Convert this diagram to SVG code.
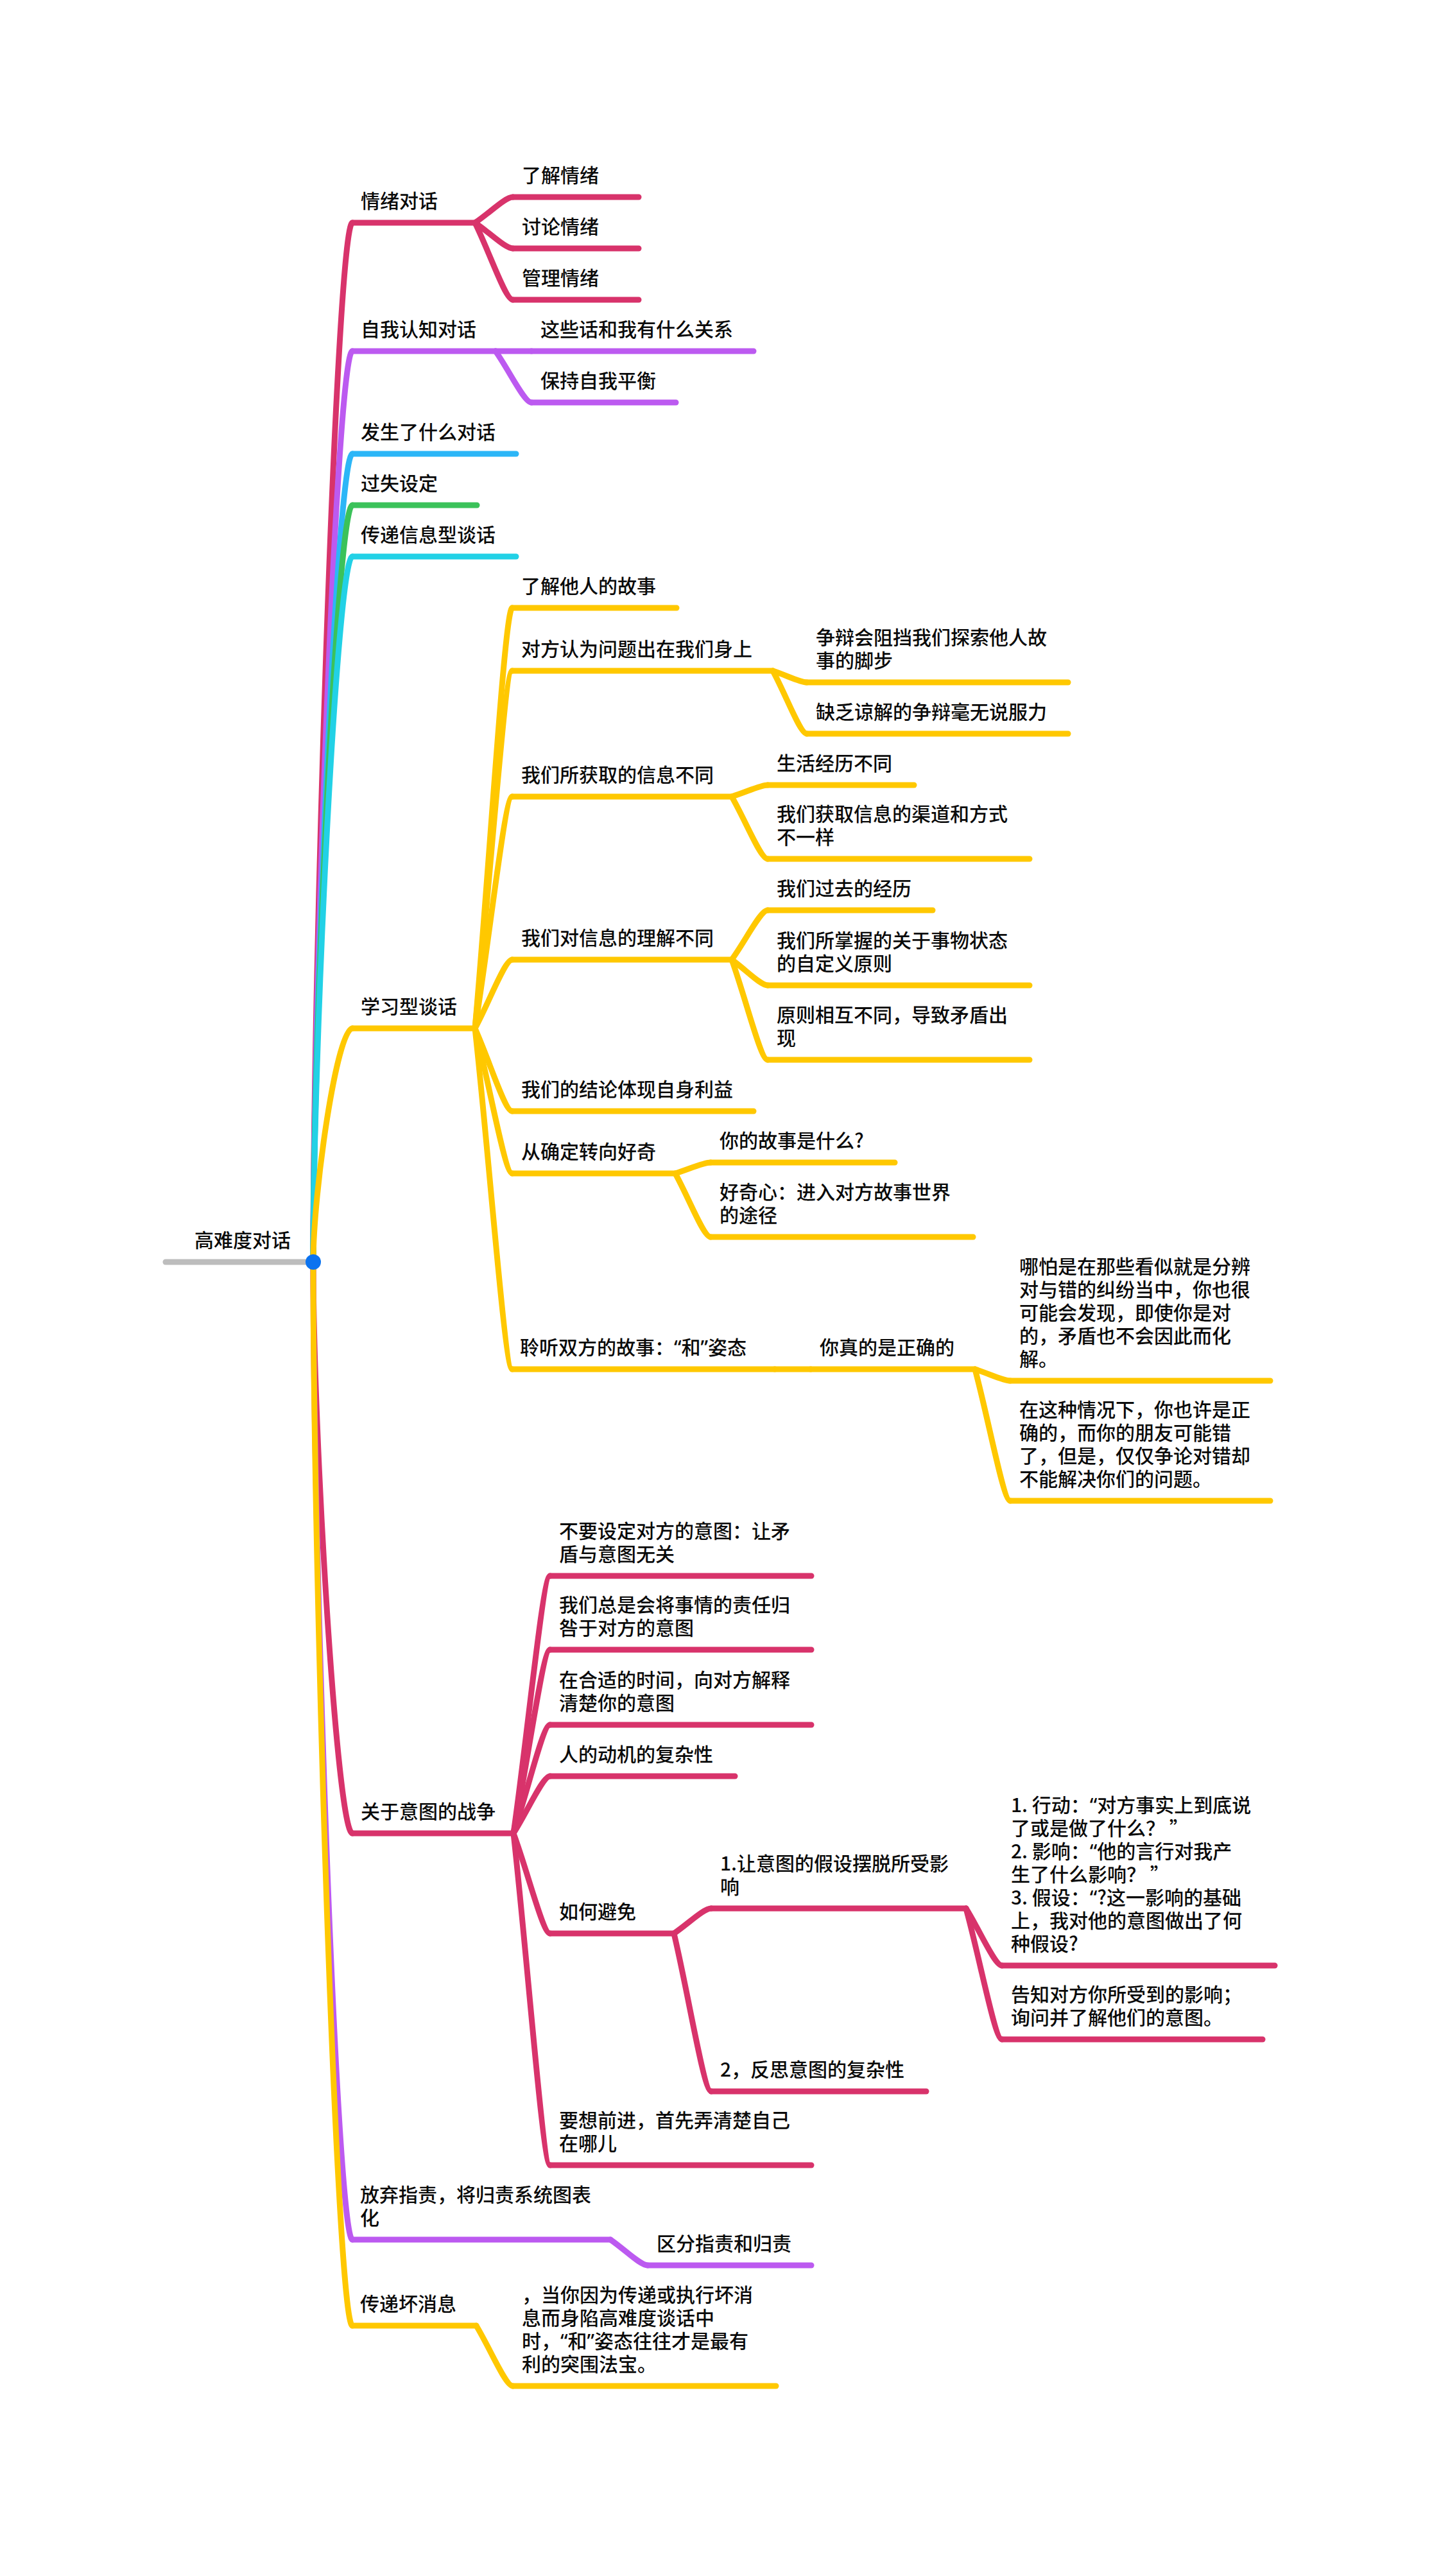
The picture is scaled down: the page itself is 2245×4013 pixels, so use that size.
<svg xmlns="http://www.w3.org/2000/svg" width="2245" height="4013" viewBox="0 0 2245 4013">
<style>
.ln{fill:none;stroke-width:9;stroke-linecap:round;stroke-linejoin:round}
.cr{stroke:#D8336B}.pu{stroke:#BC5AF0}.bl{stroke:#2CB6F7}.gr{stroke:#3BC25A}.cy{stroke:#22D1E6}.ye{stroke:#FFC800}.gy{stroke:#BDBDBD}
text{font-family:"Noto Sans CJK SC","Noto Sans",sans-serif;font-size:30px;font-weight:500;fill:#0A0A0A}
.q{font-family:"Noto Sans","Liberation Sans",sans-serif}
</style>
<rect x="0" y="0" width="2245" height="4013" fill="#FFFFFF"/>
<g id="connectors">
<path class="ln cr" d="M488,1966 C488,1480 525,347 549,347"/>
<path class="ln pu" d="M488,1966 C488,1540 525,547 549,547"/>
<path class="ln bl" d="M488,1966 C488,1588 525,707 549,707"/>
<path class="ln gr" d="M488,1966 C488,1612 525,787 549,787"/>
<path class="ln cy" d="M488,1966 C488,1636 525,867 549,867"/>
<path class="ln ye" d="M488,1966 C488,1857 525,1602 549,1602"/>
<path class="ln cr" d="M488,1966 C488,2233 525,2856 549,2856"/>
<path class="ln pu" d="M488,1966 C488,2423 525,3489 549,3489"/>
<path class="ln ye" d="M488,1966 C488,2463 525,3623 549,3623"/>
<path class="ln cr" d="M740,347 C763.6,331 787.2,307 799,307"/>
<path class="ln cr" d="M740,347 C763.6,363 787.2,387 799,387"/>
<path class="ln cr" d="M740,347 C763.6,395 787.2,467 799,467"/>
<path class="ln pu" d="M772,547 L828,547"/>
<path class="ln pu" d="M772,547 C794.4,579 816.8,627 828,627"/>
<path class="ln ye" d="M740,1602 C763.2,1340 786.4,947 798,947"/>
<path class="ln ye" d="M740,1602 C763.2,1379 786.4,1045 798,1045"/>
<path class="ln ye" d="M740,1602 C763.2,1458 786.4,1241 798,1241"/>
<path class="ln ye" d="M740,1602 C763.2,1559 786.4,1495 798,1495"/>
<path class="ln ye" d="M740,1602 C763.2,1654 786.4,1731 798,1731"/>
<path class="ln ye" d="M740,1602 C763.2,1692 786.4,1828 798,1828"/>
<path class="ln ye" d="M740,1602 C763.2,1814 786.4,2133 798,2133"/>
<path class="ln ye" d="M1204,1045 C1225.2,1052 1246.4,1063 1257,1063"/>
<path class="ln ye" d="M1204,1045 C1225.2,1084 1246.4,1143 1257,1143"/>
<path class="ln ye" d="M1140,1241 C1162.4,1234 1184.8,1223 1196,1223"/>
<path class="ln ye" d="M1140,1241 C1162.4,1280 1184.8,1338 1196,1338"/>
<path class="ln ye" d="M1140,1495 C1162.4,1464 1184.8,1418 1196,1418"/>
<path class="ln ye" d="M1140,1495 C1162.4,1511 1184.8,1535 1196,1535"/>
<path class="ln ye" d="M1140,1495 C1162.4,1557 1184.8,1651 1196,1651"/>
<path class="ln ye" d="M1052,1828 C1074,1821 1096,1811 1107,1811"/>
<path class="ln ye" d="M1052,1828 C1074,1868 1096,1927 1107,1927"/>
<path class="ln ye" d="M1207,2133 L1263,2133"/>
<path class="ln ye" d="M1519,2133 C1541,2140 1563,2151 1574,2151"/>
<path class="ln ye" d="M1519,2133 C1541,2215 1563,2338 1574,2338"/>
<path class="ln cr" d="M800,2856 C822.8,2696 845.6,2455 857,2455"/>
<path class="ln cr" d="M800,2856 C822.8,2742 845.6,2570 857,2570"/>
<path class="ln cr" d="M800,2856 C822.8,2788 845.6,2687 857,2687"/>
<path class="ln cr" d="M800,2856 C822.8,2820 845.6,2767 857,2767"/>
<path class="ln cr" d="M800,2856 C822.8,2918 845.6,3012 857,3012"/>
<path class="ln cr" d="M800,2856 C822.8,3063 845.6,3373 857,3373"/>
<path class="ln cr" d="M1050,3012 C1073.2,2996 1096.4,2973 1108,2973"/>
<path class="ln cr" d="M1050,3012 C1073.2,3110 1096.4,3258 1108,3258"/>
<path class="ln cr" d="M1505,2973 C1527.4,3009 1549.8,3062 1561,3062"/>
<path class="ln cr" d="M1505,2973 C1527.4,3055 1549.8,3177 1561,3177"/>
<path class="ln pu" d="M951,3489 C974.2,3505 997.4,3529 1009,3529"/>
<path class="ln ye" d="M742,3623 C764.8,3661 787.6,3717 799,3717"/>
</g>
<g id="root">
<line class="ln gy" x1="258" y1="1966" x2="484" y2="1966"/>
<circle cx="488" cy="1966" r="12" fill="#0B73F0"/>
<text x="303" y="1943">高难度对话</text>
</g>
<g id="n-emotion"><line class="ln cr" x1="549" y1="347" x2="740" y2="347"/><text x="562" y="324">情绪对话</text></g>
<g id="n-emotion-1"><line class="ln cr" x1="799" y1="307" x2="995" y2="307"/><text x="813" y="284">了解情绪</text></g>
<g id="n-emotion-2"><line class="ln cr" x1="799" y1="387" x2="995" y2="387"/><text x="813" y="364">讨论情绪</text></g>
<g id="n-emotion-3"><line class="ln cr" x1="799" y1="467" x2="995" y2="467"/><text x="813" y="444">管理情绪</text></g>
<g id="n-self"><line class="ln pu" x1="549" y1="547" x2="772" y2="547"/><text x="562" y="524">自我认知对话</text></g>
<g id="n-self-1"><line class="ln pu" x1="828" y1="547" x2="1174" y2="547"/><text x="842" y="524">这些话和我有什么关系</text></g>
<g id="n-self-2"><line class="ln pu" x1="828" y1="627" x2="1053" y2="627"/><text x="842" y="604">保持自我平衡</text></g>
<g id="n-what"><line class="ln bl" x1="549" y1="707" x2="804" y2="707"/><text x="562" y="684">发生了什么对话</text></g>
<g id="n-fault"><line class="ln gr" x1="549" y1="787" x2="743" y2="787"/><text x="562" y="764">过失设定</text></g>
<g id="n-info"><line class="ln cy" x1="549" y1="867" x2="804" y2="867"/><text x="562" y="844">传递信息型谈话</text></g>
<g id="n-learn"><line class="ln ye" x1="549" y1="1602" x2="740" y2="1602"/><text x="562" y="1579">学习型谈话</text></g>
<g id="n-learn-1"><line class="ln ye" x1="798" y1="947" x2="1054" y2="947"/><text x="812" y="924">了解他人的故事</text></g>
<g id="n-learn-2"><line class="ln ye" x1="798" y1="1045" x2="1204" y2="1045"/><text x="812" y="1022">对方认为问题出在我们身上</text></g>
<g id="n-learn-2-1"><line class="ln ye" x1="1257" y1="1063" x2="1664" y2="1063"/><text x="1271" y="1004">争辩会阻挡我们探索他人故<tspan x="1271" y="1040">事的脚步</tspan></text></g>
<g id="n-learn-2-2"><line class="ln ye" x1="1257" y1="1143" x2="1664" y2="1143"/><text x="1271" y="1120">缺乏谅解的争辩毫无说服力</text></g>
<g id="n-learn-3"><line class="ln ye" x1="798" y1="1241" x2="1140" y2="1241"/><text x="812" y="1218">我们所获取的信息不同</text></g>
<g id="n-learn-3-1"><line class="ln ye" x1="1196" y1="1223" x2="1424" y2="1223"/><text x="1210" y="1200">生活经历不同</text></g>
<g id="n-learn-3-2"><line class="ln ye" x1="1196" y1="1338" x2="1604" y2="1338"/><text x="1210" y="1279">我们获取信息的渠道和方式<tspan x="1210" y="1315">不一样</tspan></text></g>
<g id="n-learn-4"><line class="ln ye" x1="798" y1="1495" x2="1140" y2="1495"/><text x="812" y="1472">我们对信息的理解不同</text></g>
<g id="n-learn-4-1"><line class="ln ye" x1="1196" y1="1418" x2="1453" y2="1418"/><text x="1210" y="1395">我们过去的经历</text></g>
<g id="n-learn-4-2"><line class="ln ye" x1="1196" y1="1535" x2="1604" y2="1535"/><text x="1210" y="1476">我们所掌握的关于事物状态<tspan x="1210" y="1512">的自定义原则</tspan></text></g>
<g id="n-learn-4-3"><line class="ln ye" x1="1196" y1="1651" x2="1604" y2="1651"/><text x="1210" y="1592">原则相互不同，导致矛盾出<tspan x="1210" y="1628">现</tspan></text></g>
<g id="n-learn-5"><line class="ln ye" x1="798" y1="1731" x2="1174" y2="1731"/><text x="812" y="1708">我们的结论体现自身利益</text></g>
<g id="n-learn-6"><line class="ln ye" x1="798" y1="1828" x2="1052" y2="1828"/><text x="812" y="1805">从确定转向好奇</text></g>
<g id="n-learn-6-1"><line class="ln ye" x1="1107" y1="1811" x2="1394" y2="1811"/><text x="1121" y="1788">你的故事是什么?</text></g>
<g id="n-learn-6-2"><line class="ln ye" x1="1107" y1="1927" x2="1516" y2="1927"/><text x="1121" y="1868">好奇心：进入对方故事世界<tspan x="1121" y="1904">的途径</tspan></text></g>
<g id="n-learn-7"><line class="ln ye" x1="798" y1="2133" x2="1207" y2="2133"/><text x="810" y="2110">聆听双方的故事：<tspan class="q">“</tspan>和<tspan class="q">”</tspan>姿态</text></g>
<g id="n-learn-7-1"><line class="ln ye" x1="1263" y1="2133" x2="1519" y2="2133"/><text x="1277" y="2110">你真的是正确的</text></g>
<g id="n-learn-7-1-1"><line class="ln ye" x1="1574" y1="2151" x2="1979" y2="2151"/><text x="1588" y="1984">哪怕是在那些看似就是分辨<tspan x="1588" y="2020">对与错的纠纷当中，你也很</tspan><tspan x="1588" y="2056">可能会发现，即使你是对</tspan><tspan x="1588" y="2092">的，矛盾也不会因此而化</tspan><tspan x="1588" y="2128">解。</tspan></text></g>
<g id="n-learn-7-1-2"><line class="ln ye" x1="1574" y1="2338" x2="1979" y2="2338"/><text x="1588" y="2207">在这种情况下，你也许是正<tspan x="1588" y="2243">确的，而你的朋友可能错</tspan><tspan x="1588" y="2279">了，但是，仅仅争论对错却</tspan><tspan x="1588" y="2315">不能解决你们的问题。</tspan></text></g>
<g id="n-intent"><line class="ln cr" x1="549" y1="2856" x2="800" y2="2856"/><text x="562" y="2833">关于意图的战争</text></g>
<g id="n-intent-1"><line class="ln cr" x1="857" y1="2455" x2="1264" y2="2455"/><text x="871" y="2396">不要设定对方的意图：让矛<tspan x="871" y="2432">盾与意图无关</tspan></text></g>
<g id="n-intent-2"><line class="ln cr" x1="857" y1="2570" x2="1264" y2="2570"/><text x="871" y="2511">我们总是会将事情的责任归<tspan x="871" y="2547">咎于对方的意图</tspan></text></g>
<g id="n-intent-3"><line class="ln cr" x1="857" y1="2687" x2="1264" y2="2687"/><text x="871" y="2628">在合适的时间，向对方解释<tspan x="871" y="2664">清楚你的意图</tspan></text></g>
<g id="n-intent-4"><line class="ln cr" x1="857" y1="2767" x2="1145" y2="2767"/><text x="871" y="2744">人的动机的复杂性</text></g>
<g id="n-intent-5"><line class="ln cr" x1="857" y1="3012" x2="1050" y2="3012"/><text x="871" y="2989">如何避免</text></g>
<g id="n-intent-5-1"><line class="ln cr" x1="1108" y1="2973" x2="1505" y2="2973"/><text x="1122" y="2914">1.让意图的假设摆脱所受影<tspan x="1122" y="2950">响</tspan></text></g>
<g id="n-intent-5-1-1"><line class="ln cr" x1="1561" y1="3062" x2="1986" y2="3062"/><text x="1575" y="2823">1. 行动：<tspan class="q">“</tspan>对方事实上到底说<tspan x="1575" y="2859">了或是做了什么？ ”</tspan><tspan x="1575" y="2895">2. 影响：<tspan class="q">“</tspan>他的言行对我产</tspan><tspan x="1575" y="2931">生了什么影响？ ”</tspan><tspan x="1575" y="2967">3. 假设：<tspan class="q">“</tspan>?这一影响的基础</tspan><tspan x="1575" y="3003">上，我对他的意图做出了何</tspan><tspan x="1575" y="3039">种假设?</tspan></text></g>
<g id="n-intent-5-1-2"><line class="ln cr" x1="1561" y1="3177" x2="1967" y2="3177"/><text x="1575" y="3118">告知对方你所受到的影响；<tspan x="1575" y="3154">询问并了解他们的意图。</tspan></text></g>
<g id="n-intent-5-2"><line class="ln cr" x1="1108" y1="3258" x2="1443" y2="3258"/><text x="1122" y="3235">2，反思意图的复杂性</text></g>
<g id="n-intent-6"><line class="ln cr" x1="857" y1="3373" x2="1264" y2="3373"/><text x="871" y="3314">要想前进，首先弄清楚自己<tspan x="871" y="3350">在哪儿</tspan></text></g>
<g id="n-blame"><line class="ln pu" x1="549" y1="3489" x2="951" y2="3489"/><text x="561" y="3430">放弃指责，将归责系统图表<tspan x="561" y="3466">化</tspan></text></g>
<g id="n-blame-1"><line class="ln pu" x1="1009" y1="3529" x2="1264" y2="3529"/><text x="1023" y="3506">区分指责和归责</text></g>
<g id="n-bad"><line class="ln ye" x1="549" y1="3623" x2="742" y2="3623"/><text x="561" y="3600">传递坏消息</text></g>
<g id="n-bad-1"><line class="ln ye" x1="799" y1="3717" x2="1209" y2="3717"/><text x="813" y="3586">，当你因为传递或执行坏消<tspan x="813" y="3622">息而身陷高难度谈话中</tspan><tspan x="813" y="3658">时，<tspan class="q">“</tspan>和<tspan class="q">”</tspan>姿态往往才是最有</tspan><tspan x="813" y="3694">利的突围法宝。</tspan></text></g>
</svg>
